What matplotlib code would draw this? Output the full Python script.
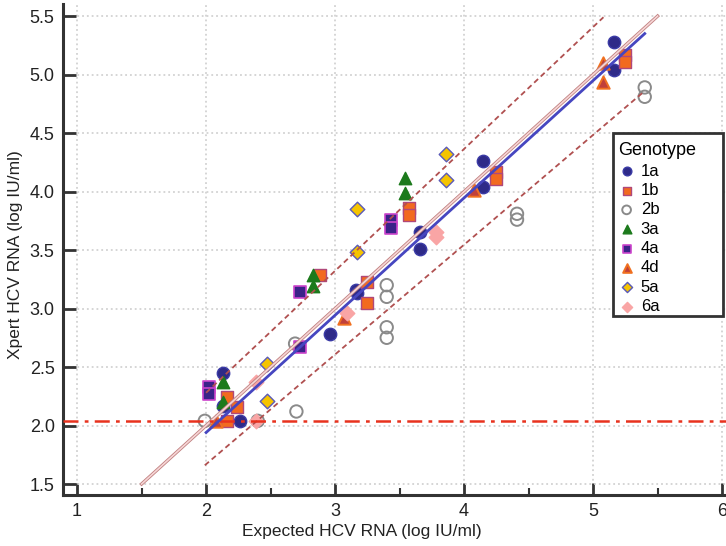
import numpy as np
import matplotlib
matplotlib.use('Agg')
import matplotlib.pyplot as plt
from matplotlib.ticker import MultipleLocator, FormatStrFormatter
from matplotlib.patches import Rectangle

plt.rcParams['font.family'] = ['Liberation Sans', 'DejaVu Sans']

x_1a = [5.16, 5.16, 4.15, 4.15, 3.66, 3.66, 3.16, 3.17, 2.96, 2.13, 2.13, 2.26]
y_1a = [5.28, 5.04, 4.26, 4.04, 3.65, 3.51, 3.16, 3.13, 2.78, 2.45, 2.17, 2.04]
x_1b = [5.25, 5.25, 4.25, 4.25, 3.57, 3.57, 3.25, 3.25, 2.88, 2.16, 2.24, 2.16]
y_1b = [5.17, 5.11, 4.17, 4.11, 3.86, 3.80, 3.23, 3.05, 3.29, 2.24, 2.16, 2.04]
x_2b = [5.40, 5.40, 4.41, 4.41, 3.40, 3.40, 3.40, 3.40, 2.69, 2.70, 1.99, 2.40]
y_2b = [4.89, 4.81, 3.81, 3.76, 3.20, 3.10, 2.84, 2.75, 2.70, 2.12, 2.04, 2.04]
x_3a = [3.54, 3.54, 2.83, 2.83, 2.13, 2.13]
y_3a = [4.12, 3.99, 3.29, 3.19, 2.37, 2.20]
x_4a = [3.43, 3.43, 2.73, 2.73, 2.02, 2.02]
y_4a = [3.76, 3.69, 3.14, 2.67, 2.33, 2.27]
x_4d = [5.08, 5.08, 4.08, 3.07, 2.08]
y_4d = [5.10, 4.94, 4.01, 2.92, 2.04]
x_5a = [3.86, 3.86, 3.17, 3.17, 2.47, 2.47]
y_5a = [4.32, 4.10, 3.85, 3.48, 2.53, 2.21]
x_6a = [3.78, 3.78, 3.09, 2.39, 2.39]
y_6a = [3.65, 3.61, 2.96, 2.37, 2.04]

# fitted lines (end points)
fit_x = [2.0, 5.40]
fit_y = [1.94, 5.35]
upper_x = [2.0, 5.08]
upper_y = [2.28, 5.49]
lower_x = [1.99, 5.39]
lower_y = [1.66, 4.85]
ident_x = [1.5, 5.5]
lod = 2.04

fig = plt.figure(figsize=(7.26, 5.46), dpi=100)
ax = fig.add_axes([0.0868, 0.0934, 0.9132, 0.8986])

ms = 80
ax.scatter(x_1a, y_1a, s=ms, marker='o', facecolor='#2e2a88', edgecolor='#3b3ba6', lw=1, label='1a', zorder=3)
ax.scatter(x_1b, y_1b, s=ms, marker='s', facecolor='#f26a1f', edgecolor='#b0487a', lw=1, label='1b', zorder=3)
ax.scatter(x_2b, y_2b, s=ms, marker='o', facecolor='none', edgecolor='#8a8a8a', lw=1.4, label='2b', zorder=3)
ax.scatter(x_3a, y_3a, s=ms, marker='^', facecolor='#1c7a1c', edgecolor='#1c7a1c', lw=1, label='3a', zorder=3)
ax.scatter(x_4a, y_4a, s=ms, marker='s', facecolor='#3a2288', edgecolor='#cc44cc', lw=1.2, label='4a', zorder=3)
ax.scatter(x_4d, y_4d, s=ms, marker='^', facecolor='#c0403a', edgecolor='#f07020', lw=1.4, label='4d', zorder=3)
ax.scatter(x_5a, y_5a, s=55, marker='D', facecolor='#f5c400', edgecolor='#5a5ab8', lw=1, label='5a', zorder=3)
ax.scatter(x_6a, y_6a, s=55, marker='D', facecolor='#f9a5a5', edgecolor='#f9a5a5', lw=1, label='6a', zorder=3)

# identity line, limits, fit and detection limit
ax.plot(ident_x, ident_x, color='#c08080', lw=2.4, zorder=4)
ax.plot(ident_x, ident_x, color='#f6d6d6', lw=1.2, zorder=4)
ax.plot(upper_x, upper_y, color='#b05050', lw=1.3, ls=(0, (3, 2)), zorder=4)
ax.plot(lower_x, lower_y, color='#b05050', lw=1.3, ls=(0, (3, 2)), zorder=4)
ax.plot(fit_x, fit_y, color='#4646c0', lw=2, zorder=5)
ax.axhline(lod, color='#e8321e', lw=1.8, ls=(0, (6, 2.5, 1.5, 2.5)), zorder=4)

ax.set_xlim(0.891, 6.03)
ax.set_ylim(1.406, 5.60)
ax.xaxis.set_major_locator(MultipleLocator(1))
ax.xaxis.set_minor_locator(MultipleLocator(0.5))
ax.yaxis.set_major_locator(MultipleLocator(0.5))
ax.yaxis.set_major_formatter(FormatStrFormatter('%.1f'))
ax.grid(True, which='major', color='#d2d2d2', lw=1.3, ls=':')
ax.set_axisbelow(True)

for s in ['top', 'right']:
    ax.spines[s].set_visible(False)
for s in ['left', 'bottom']:
    ax.spines[s].set_linewidth(2.2)
    ax.spines[s].set_color('#333333')
ax.tick_params(which='major', direction='in', length=9, width=2, color='#333333',
               labelsize=13, labelcolor='#222222', pad=6)
ax.tick_params(which='minor', direction='in', length=5, width=1.5, color='#333333')
ax.tick_params(axis='y', which='minor', left=False)

ax.set_xlabel('Expected HCV RNA (log IU/ml)', fontsize=12.5, color='#222222')
ax.set_ylabel('Xpert HCV RNA (log IU/ml)', fontsize=12.5, color='#222222')
ax.xaxis.set_label_coords(0.451, -0.06)
ax.yaxis.set_label_coords(-0.060, 0.49)

# legend box drawn by hand so its size matches
box = Rectangle((0.8296, 0.3653), 0.166, 0.3735, transform=ax.transAxes,
                facecolor='white', edgecolor='#333333', lw=2, zorder=9, clip_on=False)
ax.add_patch(box)
leg = ax.legend(title='Genotype', loc='upper left', bbox_to_anchor=(0.8375, 0.719),
                borderaxespad=0, borderpad=0, fontsize=12, title_fontsize=13,
                markerscale=0.7, handlelength=1.0, handletextpad=0.35,
                labelspacing=0.26, frameon=False, alignment='left')
leg.set_zorder(10)

fig.savefig('out.png', dpi=100)
